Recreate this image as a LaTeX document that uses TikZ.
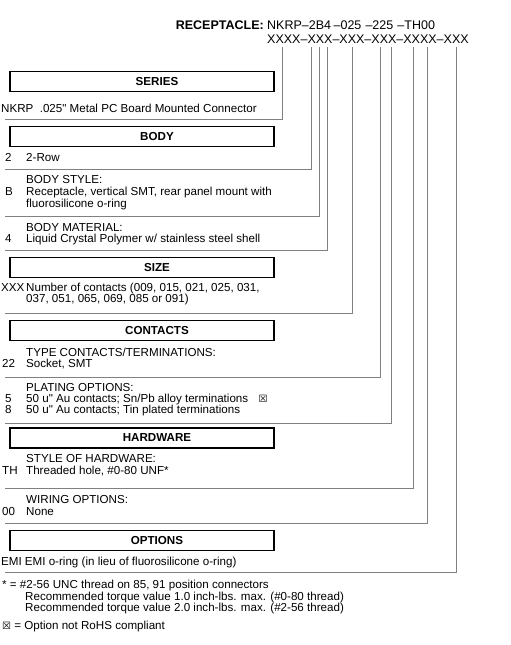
\documentclass[tikz,border=0pt]{standalone}
\usepackage{fontspec}
\setmainfont{Liberation Sans}[Ligatures=TeXOff]
\newfontfamily\symfont{DejaVu Sans}
\usetikzlibrary{positioning}
\tikzset
{
    secbox/.style   = {rectangle, draw=black, line width=1.2pt, minimum width=264pt, minimum height=20pt, inner sep=0pt},
    sectitle/.style = {inner sep=0pt, font=\fontsize{11.6}{13}\selectfont\bfseries},
    hdr/.style      = {inner sep=0pt, font=\fontsize{12.5}{14}\selectfont},
    code/.style     = {anchor=base west, inner sep=0pt, font=\fontsize{11.6}{13}\selectfont},
    desc/.style     = {anchor=base west, inner sep=0pt, font=\fontsize{11.6}{13}\selectfont},
    rule/.style     = {draw=black!50, line width=0.9pt},
}
\newcommand{\notrohs}{{\symfont\fontsize{10}{10}\selectfont ☒}}

\begin{document}
\begin{tikzpicture}[x=1pt,y=-1pt]
	\useasboundingbox (0,0) rectangle (511,645);

	% part number
	\node[hdr, anchor=base east] (rlbl) at (264,29.5) {\bfseries RECEPTACLE:};
	\node[hdr, anchor=base west] (pn) at (267,29.5) {NKRP–2B4\kern.2em–025\kern.33em–225\kern.33em–TH00};
	\node[hdr, anchor=base west] (mask) at (267,43.5) {XXXX–XXX–XXX–XXX–XXXX–XXX};

	% leaders
	\coordinate (lft) at (5,0);
	\foreach \n/\x/\y in {1/282/119, 2/311/169, 3/319/216, 4/327/250, 5/352/313, 6/380/377, 7/391/423, 8/413/488, 9/427/523, 10/456/572}
	{
		\coordinate (t\n) at (\x,47);
		\coordinate (e\n) at (\x,\y);
		\draw[rule] (t\n) -- (e\n) -- (e\n -| lft);
	}

	% series
	\node[secbox] (series) at (142,81.7) {};
	\node[sectitle] (seriest) at (157,81.7) {SERIES};
	\node[code] (nkrp) at (1,112) {NKRP\hspace{0.55em}.025" Metal PC Board Mounted Connector};

	% body
	\node[secbox] (body) at (142,136.7) {};
	\node[sectitle] (bodyt) at (157,136.7) {BODY};
	\node[code] (c2) at (5,161.5) {2};
	\node[desc] (d2) at (26,161.5) {2-Row};
	\node[desc] (bstyle) at (26,183) {BODY STYLE:};
	\node[code] (cb) at (5,195) {B};
	\node[desc] (db) at (26,195) {Receptacle, vertical SMT, rear panel mount with};
	\node[desc] (db2) at (26,207.5) {fluorosilicone o-ring};
	\node[desc] (bmat) at (26,231) {BODY MATERIAL:};
	\node[code] (c4) at (5,242) {4};
	\node[desc] (d4) at (26,242) {Liquid Crystal Polymer w/ stainless steel shell};

	% size
	\node[secbox] (size) at (142,267.3) {};
	\node[sectitle] (sizet) at (157,267.3) {SIZE};
	\node[code] (cxxx) at (1,291.5) {XXX};
	\node[desc] (dxxx) at (26,291.5) {Number of contacts (009, 015, 021, 025, 031,};
	\node[desc] (dxxx2) at (26,302.5) {037, 051, 065, 069, 085 or 091)};

	% contacts
	\node[secbox] (cont) at (142,330.7) {};
	\node[sectitle] (contt) at (157,330.7) {CONTACTS};
	\node[desc] (ctype) at (26,356) {TYPE CONTACTS/TERMINATIONS:};
	\node[code] (c22) at (2,367) {22};
	\node[desc] (d22) at (26,367) {Socket, SMT};
	\node[desc] (plat) at (26,391) {PLATING OPTIONS:};
	\node[code] (c5) at (5,402) {5};
	\node[desc] (d5) at (26,402) {50 u" Au contacts; Sn/Pb alloy terminations\hspace{0.9em}\notrohs};
	\node[code] (c8) at (5,413) {8};
	\node[desc] (d8) at (26,413) {50 u" Au contacts; Tin plated terminations};

	% hardware
	\node[secbox] (hw) at (142,438) {};
	\node[sectitle] (hwt) at (157,438) {HARDWARE};
	\node[desc] (hstyle) at (26,462.5) {STYLE OF HARDWARE:};
	\node[code] (cth) at (2,474.5) {TH};
	\node[desc] (dth) at (26,474.5) {Threaded hole, \#0-80 UNF*};
	\node[desc] (wire) at (26,503) {WIRING OPTIONS:};
	\node[code] (c00) at (2,515) {00};
	\node[desc] (d00) at (26,515) {None};

	% options
	\node[secbox] (opt) at (142,540.7) {};
	\node[sectitle] (optt) at (157,540.7) {OPTIONS};
	\node[code] (emi) at (1,565) {EMI\hspace{0.27em}EMI o-ring (in lieu of fluorosilicone o-ring)};

	% notes
	\node[code] (n1) at (2,588) {* = \#2-56 UNC thread on 85, 91 position connectors};
	\node[desc] (n2) at (25,600) {Recommended torque value 1.0 inch-lbs. max. (\#0-80 thread)};
	\node[desc] (n3) at (25,611) {Recommended torque value 2.0 inch-lbs. max. (\#2-56 thread)};
	\node[code] (n4) at (2,629) {\notrohs\ = Option not RoHS compliant};
\end{tikzpicture}
\end{document}
